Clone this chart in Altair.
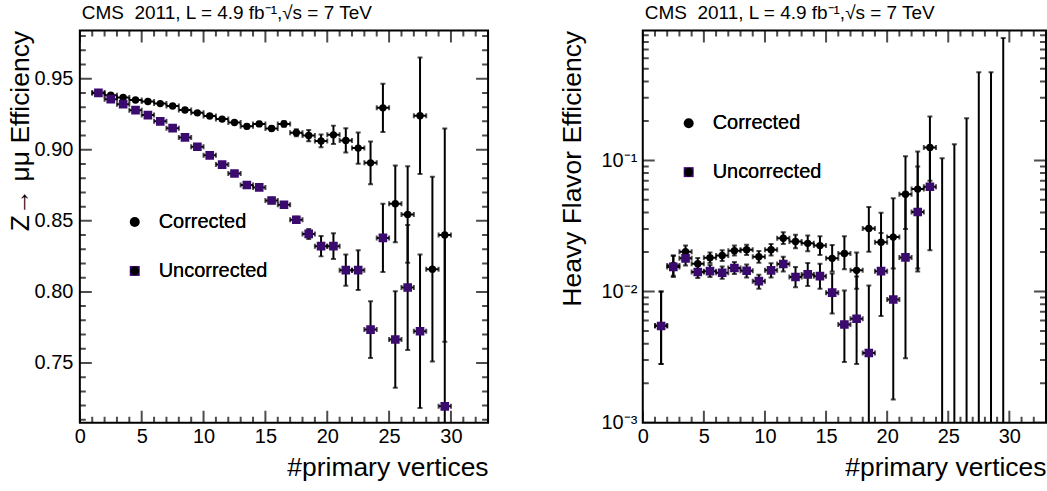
import altair as alt
import pandas as pd
import numpy as np

# ---------------- data ----------------
nv = [1.5, 2.5, 3.5, 4.5, 5.5, 6.5, 7.5, 8.5, 9.5, 10.5, 11.5, 12.5, 13.5, 14.5,
      15.5, 16.5, 17.5, 18.5, 19.5, 20.5, 21.5, 22.5, 23.5, 24.5, 25.5, 26.5,
      27.5, 28.5, 29.5]

# Z -> mumu efficiency (left panel)
z_corr = [0.9402, 0.9384, 0.9368, 0.9350, 0.9340, 0.9325, 0.9308, 0.9280, 0.9260,
          0.9238, 0.9216, 0.9192, 0.9165, 0.9182, 0.9150, 0.9182, 0.9120, 0.9100,
          0.9062, 0.9105, 0.9066, 0.9012, 0.8908, 0.9295, 0.8620, 0.8545, 0.9240,
          0.8160, 0.8400]
z_corr_err = [0.0008, 0.0008, 0.0008, 0.0008, 0.0008, 0.0008, 0.0008, 0.0008, 0.0010,
              0.0010, 0.0010, 0.0010, 0.0015, 0.0015, 0.0015, 0.0020, 0.0025, 0.0040,
              0.0045, 0.0065, 0.0085, 0.0110, 0.0150, 0.0170, 0.0270, 0.0340, 0.0410,
              0.0650, 0.0750]
z_unc = [0.9400, 0.9356, 0.9321, 0.9279, 0.9244, 0.9200, 0.9152, 0.9087, 0.9021,
         0.8961, 0.8896, 0.8833, 0.8752, 0.8735, 0.8643, 0.8613, 0.8508, 0.8408,
         0.8322, 0.8322, 0.8153, 0.8153, 0.7735, 0.8380, 0.7665, 0.8031, 0.7723,
         None, 0.7195]
z_unc_err = [0.0008, 0.0008, 0.0008, 0.0008, 0.0008, 0.0008, 0.0008, 0.0008, 0.0008,
             0.0008, 0.0012, 0.0012, 0.0012, 0.0012, 0.0020, 0.0020, 0.0020, 0.0035,
             0.0072, 0.0090, 0.0110, 0.0140, 0.0200, 0.0240, 0.0340, 0.0440, 0.0540,
             None, 0.1200]

# Heavy flavour efficiency (right panel)
hf_corr = [0.0055, 0.0158, 0.0201, 0.0163, 0.0181, 0.0188, 0.0205, 0.0208, 0.0184,
           0.0208, 0.0255, 0.0241, 0.0233, 0.0224, 0.0179, 0.0195, 0.0145, 0.0302,
           0.0238, 0.0260, 0.0552, 0.0604, 0.1253, None, None, None, None, None, None]
hf_corr_lo = [0.0028, 0.0132, 0.0180, 0.0148, 0.0165, 0.0171, 0.0188, 0.0190, 0.0166,
              0.0188, 0.0230, 0.0214, 0.0203, 0.0190, 0.0142, 0.0148, 0.0105, 0.0201,
              0.0150, 0.0150, 0.0300, 0.0142, 0.0700, 0.0, 0.0, 0.0, 0.0, 0.0, 0.0]
hf_corr_hi = [0.0100, 0.0188, 0.0224, 0.0180, 0.0198, 0.0206, 0.0224, 0.0227, 0.0204,
              0.0230, 0.0283, 0.0271, 0.0268, 0.0264, 0.0226, 0.0264, 0.0198, 0.0441,
              0.0398, 0.0515, 0.1076, 0.1170, 0.2160, 0.104, 0.133, 0.210, 0.469,
              0.469, 0.857]
hf_unc = [0.00546, 0.0154, 0.0179, 0.0141, 0.0143, 0.0139, 0.0151, 0.0144, 0.0120,
          0.0145, 0.0162, 0.0129, 0.0135, 0.0131, 0.0098, 0.0056, 0.0062, 0.0034,
          0.0143, 0.0087, 0.0182, 0.0404, 0.0630, None, None, None, None, None, None]
hf_unc_lo = [0.0028, 0.0129, 0.0158, 0.0127, 0.0129, 0.0125, 0.0136, 0.0128, 0.0105,
             0.0128, 0.0142, 0.0108, 0.0110, 0.0105, 0.0068, 0.0029, 0.0028, 0.0,
             0.0065, 0.0015, 0.0031, 0.0150, 0.0206, None, None, None, None, None, None]
hf_unc_hi = [0.0100, 0.0187, 0.0202, 0.0157, 0.0159, 0.0155, 0.0168, 0.0161, 0.0134,
             0.0164, 0.0184, 0.0154, 0.0165, 0.0163, 0.0137, 0.0102, 0.0130, 0.0111,
             0.0280, 0.0260, 0.0550, 0.0900, 0.1250, None, None, None, None, None, None]

series_names = ["Corrected", "Uncorrected"]
series_colors = ["#000000", "#3b0a6e"]
series_shapes = ["circle", "square"]
series_sizes = [55, 75]

x_major = [0, 5, 10, 15, 20, 25, 30]
x_minor = [1, 2, 3, 4, 6, 7, 8, 9, 11, 12, 13, 14, 16, 17, 18, 19, 21, 22, 23, 24,
           26, 27, 28, 29, 31, 32, 33]
zy_major = [0.75, 0.80, 0.85, 0.90, 0.95]
zy_minor = [0.71, 0.72, 0.73, 0.74, 0.76, 0.77, 0.78, 0.79, 0.81, 0.82, 0.83, 0.84,
            0.86, 0.87, 0.88, 0.89, 0.91, 0.92, 0.93, 0.94, 0.96, 0.97, 0.98]
hy_major = [0.001, 0.01, 0.1]
hy_minor = [0.002, 0.003, 0.004, 0.005, 0.006, 0.007, 0.008, 0.009,
            0.02, 0.03, 0.04, 0.05, 0.06, 0.07, 0.08, 0.09,
            0.2, 0.3, 0.4, 0.5, 0.6, 0.7, 0.8, 0.9]

X_DOMAIN = [0, 33]
ZY_DOMAIN = [0.708, 0.984]
HY_DOMAIN = [0.001, 0.98]

TITLE = "CMS\u00a0\u00a02011, L = 4.9 fb\u207b\u00b9,\u221as = 7 TeV"
FONT = "Liberation Sans"
W1, W2, H = 409, 404, 393
MAJ, MIN = 12, 6
AXIS_TITLE_SIZE = 26.5

# ---------------- frames ----------------
def z_frame():
    rows = []
    for name, v, e in [(series_names[0], z_corr, z_corr_err), (series_names[1], z_unc, z_unc_err)]:
        for x, val, err in zip(nv, v, e):
            if val is None:
                continue
            rows.append(dict(nv=x, series=name, val=val, lo=val - err, hi=val + err,
                             xl=x - 0.5, xr=x + 0.5))
    return pd.DataFrame(rows)


def hf_frame():
    rows = []
    for name, v, lo, hi in [(series_names[0], hf_corr, hf_corr_lo, hf_corr_hi),
                            (series_names[1], hf_unc, hf_unc_lo, hf_unc_hi)]:
        for x, val, l, h in zip(nv, v, lo, hi):
            if h is None:
                continue
            rows.append(dict(nv=x, series=name, val=val if val is not None else np.nan,
                             lo=max(l, HY_DOMAIN[0]), hi=h, xl=x - 0.5, xr=x + 0.5,
                             lo_cap=(l if l > HY_DOMAIN[0] else np.nan)))
    return pd.DataFrame(rows)


def tick_frame(major, minor):
    return pd.DataFrame({"v": list(major) + list(minor),
                         "len": [2 * MAJ] * len(major) + [2 * MIN] * len(minor)})


def panel(df, ydomain, ytype, yaxis, width, legend_xy, has_locap=False):
    xs = alt.Scale(domain=X_DOMAIN, nice=False, zero=False)
    ys = alt.Scale(domain=ydomain, nice=False, zero=False, type=ytype)
    xaxis = alt.Axis(values=x_major, ticks=False, tickSize=0, domain=False, grid=False,
                     labelFontSize=20, labelPadding=4, labelColor="black", format="d",
                     title="#primary vertices", titleAnchor="end", titleFontSize=AXIS_TITLE_SIZE,
                     titleFontWeight="normal", titleColor="black", titlePadding=8,
                     labelFlush=False)
    X = lambda f: alt.X(f, type="quantitative", scale=xs, axis=xaxis)
    Y = lambda f: alt.Y(f, type="quantitative", scale=ys, axis=yaxis)

    leg = alt.Legend(orient="none", legendX=legend_xy[0], legendY=legend_xy[1],
                     title=None, labelFontSize=20, labelFont=FONT,
                     labelColor="black", rowPadding=29, labelOffset=14,
                     padding=0, symbolStrokeWidth=0)

    base = alt.Chart(df)
    hbar = base.mark_rule(color="black", strokeWidth=2, clip=True).encode(
        x=X("xl"), x2="xr", y=Y("val"))
    vbar = base.mark_rule(color="black", strokeWidth=2, clip=True).encode(
        x=X("nv"), y=Y("lo"), y2="hi")
    capl = base.mark_tick(color="black", orient="vertical", size=5, thickness=2, clip=True).encode(
        x=X("xl"), y=Y("val"))
    capr = base.mark_tick(color="black", orient="vertical", size=5, thickness=2, clip=True).encode(
        x=X("xr"), y=Y("val"))
    caph = base.mark_tick(color="black", orient="horizontal", size=5, thickness=2, clip=True).encode(
        x=X("nv"), y=Y("hi"))
    capfield = "lo_cap" if has_locap else "lo"
    capb = base.mark_tick(color="black", orient="horizontal", size=5, thickness=2, clip=True).encode(
        x=X("nv"), y=Y(capfield))
    pts = base.mark_point(filled=True, opacity=1, strokeWidth=0, clip=True).encode(
        x=X("nv"), y=Y("val"),
        color=alt.Color("series:N", scale=alt.Scale(domain=series_names, range=series_colors),
                        legend=leg),
        shape=alt.Shape("series:N", scale=alt.Scale(domain=series_names, range=series_shapes),
                        legend=leg),
        size=alt.Size("series:N", scale=alt.Scale(domain=series_names, range=series_sizes),
                      legend=leg),
    )

    xt = tick_frame(x_major, x_minor)
    if ytype == "log":
        yt = tick_frame(hy_major, hy_minor)
    else:
        yt = tick_frame(zy_major, zy_minor)
    tk = dict(color="black", thickness=2, clip=True)
    bot = alt.Chart(xt).mark_tick(orient="vertical", **tk).encode(
        x=X("v"), y=alt.value(H), size=alt.Size("len:Q", scale=None, legend=None))
    top = alt.Chart(xt).mark_tick(orient="vertical", **tk).encode(
        x=X("v"), y=alt.value(0), size=alt.Size("len:Q", scale=None, legend=None))
    lef = alt.Chart(yt).mark_tick(orient="horizontal", **tk).encode(
        y=Y("v"), x=alt.value(0), size=alt.Size("len:Q", scale=None, legend=None))
    rig = alt.Chart(yt).mark_tick(orient="horizontal", **tk).encode(
        y=Y("v"), x=alt.value(width), size=alt.Size("len:Q", scale=None, legend=None))

    return alt.layer(bot, top, lef, rig, hbar, vbar, capl, capr, caph, capb, pts).properties(
        width=width, height=H,
        view=alt.ViewBackground(stroke="black", strokeWidth=2),
        title=alt.TitleParams(TITLE, anchor="start", frame="group", fontSize=19, font=FONT,
                              fontWeight="normal", color="black", offset=7, dx=2),
    ).resolve_scale(size="independent")


zaxis = alt.Axis(values=zy_major, ticks=False, tickSize=0, domain=False, grid=False,
                 labelFontSize=20, labelPadding=7, labelColor="black", format=".2f",
                 title="Z\u2192 \u03bc\u03bc Efficiency", titleAnchor="end", titleFontSize=AXIS_TITLE_SIZE,
                 titleFontWeight="normal", titleColor="black", titlePadding=0, labelFlush=False)
haxis = alt.Axis(values=hy_major, ticks=False, tickSize=0, domain=False, grid=False,
                 labelFontSize=20, labelPadding=6, labelColor="black",
                 labelExpr="datum.value < 0.005 ? '10\u207b\u00b3' : (datum.value < 0.05 ? '10\u207b\u00b2' : '10\u207b\u00b9')",
                 title="Heavy Flavor Efficiency", titleAnchor="end", titleFontSize=AXIS_TITLE_SIZE,
                 titleFontWeight="normal", titleColor="black", titlePadding=14, labelFlush=False)

left = panel(z_frame(), ZY_DOMAIN, "linear", zaxis, W1, (45, 182))
right = panel(hf_frame(), HY_DOMAIN, "log", haxis, W2, (36, 83), has_locap=True)

chart = alt.hconcat(left, right, spacing=70).resolve_scale(
    color="independent", shape="independent", size="independent"
).properties(
    padding={"left": 6, "top": 3, "right": 0, "bottom": 0},
    background="white",
).configure(font=FONT).configure_view(stroke="black", strokeWidth=2)

chart.save("out.html", embed_options={"renderer": "svg", "actions": False})
